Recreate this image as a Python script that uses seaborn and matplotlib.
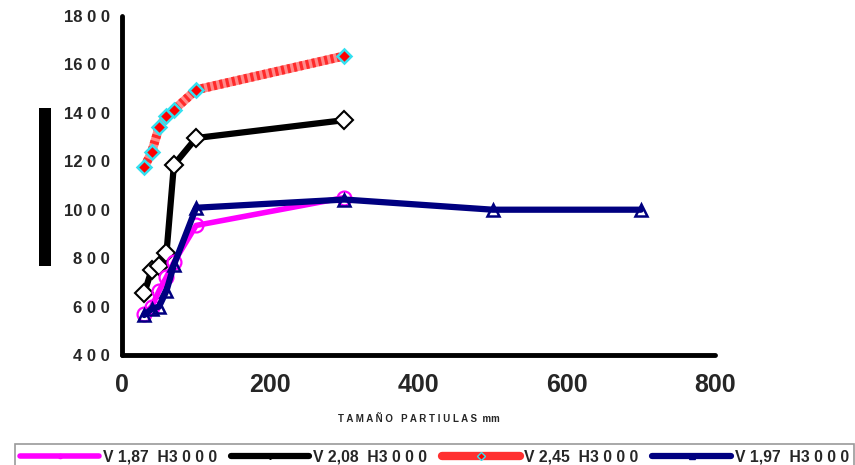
import matplotlib
matplotlib.use("Agg")
import matplotlib.pyplot as plt
from matplotlib.lines import Line2D
from matplotlib.patches import Rectangle
from matplotlib import font_manager
import seaborn as sns
import pandas as pd

sns.set_style("white")
plt.rcParams["font.family"] = ["Liberation Sans", "DejaVu Sans"]
plt.rcParams["font.weight"] = "bold"

# Particle size (mm) and measured values for each series
size_short = [30, 40, 50, 60, 70, 100, 300]
size_long = [30, 40, 50, 60, 70, 100, 300, 500, 700]

v187 = [570, 600, 665, 722, 783, 935, 1050]
v208 = [655, 752, 768, 821, 1185, 1296, 1370]
v245 = [1175, 1238, 1340, 1388, 1412, 1495, 1635]
v197 = [565, 590, 600, 665, 772, 1008, 1042, 1000, 1000]

labels = ["V 1,87  H3 0 0 0", "V 2,08  H3 0 0 0", "V 2,45  H3 0 0 0", "V 1,97  H3 0 0 0"]

x_ticks = [0, 200, 400, 600, 800]
y_ticks = [400, 600, 800, 1000, 1200, 1400, 1600, 1800]

pink = "#ff00ff"
navy = "#000080"
red = "#ff4040"
cyan = "#33e0f0"

names = {f.name for f in font_manager.fontManager.ttflist}
narrow = "Liberation Sans Narrow" if "Liberation Sans Narrow" in names else "Liberation Sans"

fig = plt.figure(figsize=(8.55, 4.65), dpi=100)
ax = fig.add_axes([0.1427, 0.2366, 0.6936, 0.729])

df187 = pd.DataFrame({"x": size_short, "y": v187})
df208 = pd.DataFrame({"x": size_short, "y": v208})
df245 = pd.DataFrame({"x": size_short, "y": v245})
df197 = pd.DataFrame({"x": size_long, "y": v197})

# V 2,45: thick striped red line with red diamonds outlined in cyan
sns.lineplot(data=df245, x="x", y="y", ax=ax, sort=False, color="#ff8a8a",
             linewidth=6.5, estimator=None, zorder=2)
sns.lineplot(data=df245, x="x", y="y", ax=ax, sort=False, color="#ff2a2a",
             linewidth=6.5, estimator=None, zorder=2.1)
ax.lines[-1].set_linestyle((0, (0.35, 0.35)))
ax.lines[-1].set_dash_capstyle("butt")
sns.lineplot(data=df245, x="x", y="y", ax=ax, sort=False, color=red,
             linewidth=0, marker="D", markersize=7, markerfacecolor="#ff0000",
             markeredgecolor=cyan, markeredgewidth=1.8, estimator=None,
             zorder=3, clip_on=False)

# V 2,08: black line with open diamonds
sns.lineplot(data=df208, x="x", y="y", ax=ax, sort=False, color="black",
             linewidth=4.5, marker="D", markersize=9.5, markerfacecolor="white",
             markeredgecolor="black", markeredgewidth=1.5, estimator=None,
             zorder=3, clip_on=False)

# V 1,87: magenta line with open circles
sns.lineplot(data=df187, x="x", y="y", ax=ax, sort=False, color=pink,
             linewidth=4, marker="o", markersize=10, markerfacecolor="none",
             markeredgecolor=pink, markeredgewidth=1.6, estimator=None,
             zorder=3, clip_on=False)

# V 1,97: navy line with open triangles
sns.lineplot(data=df197, x="x", y="y", ax=ax, sort=False, color=navy,
             linewidth=4.5, marker="^", markersize=9, markerfacecolor="white",
             markeredgecolor=navy, markeredgewidth=1.8, estimator=None,
             zorder=3.5, clip_on=False)
ax.lines[-1].set_markerfacecolor("none")

ax.set_xlim(0, 800)
ax.set_ylim(400, 1800)
ax.set_xticks(x_ticks)
ax.set_yticks(y_ticks)
ax.set_xticklabels([str(v) for v in x_ticks], fontsize=18, fontweight="bold",
                   family=[narrow, "DejaVu Sans"])
ax.set_yticklabels([" ".join([str(v)[:-2], "0", "0"]) if v >= 1000 else " ".join(str(v)) for v in y_ticks],
                   fontsize=12, fontweight="bold")
ax.tick_params(axis="both", direction="out", length=3, width=4, color="black")
ax.tick_params(axis="x", pad=10)
ax.tick_params(axis="y", pad=6)

for side in ["top", "right"]:
    ax.spines[side].set_visible(False)
for side in ["left", "bottom"]:
    ax.spines[side].set_linewidth(3.5)
    ax.spines[side].set_color("black")
    ax.spines[side].set_capstyle("round")

ax.set_xlabel("T A M A Ñ O   P A R T I U L A S  mm", fontsize=7, fontweight="bold", labelpad=12)
ax.set_ylabel("")

# solid block used as the vertical axis title
fig.patches.append(Rectangle((39 / 855, 1 - 266 / 465), 12 / 855, 158 / 465,
                             transform=fig.transFigure, facecolor="black",
                             edgecolor="none"))

handles = [
    Line2D([], [], color=pink, linewidth=4, marker="o", markersize=3,
           markerfacecolor=pink, markeredgecolor=pink),
    Line2D([], [], color="black", linewidth=4.5, marker="D", markersize=3,
           markerfacecolor="black", markeredgecolor="black"),
    Line2D([], [], color="#ff3030", linewidth=6, marker="D", markersize=4,
           markerfacecolor="#ff0000", markeredgecolor=cyan, markeredgewidth=1),
    Line2D([], [], color=navy, linewidth=4.5, marker="^", markersize=4,
           markerfacecolor=navy, markeredgecolor=navy),
]
leg = fig.legend(handles, labels, loc="upper left", bbox_to_anchor=(7 / 855, 1 - 436 / 465),
                 ncol=4, frameon=True, fancybox=False, handlelength=5.0,
                 handletextpad=0.25, columnspacing=0.9, borderpad=0.35,
                 prop={"weight": "bold", "size": 11.3})
leg.get_frame().set_edgecolor("#808080")
leg.get_frame().set_linewidth(1.2)

fig.savefig("out.png", dpi=100)
